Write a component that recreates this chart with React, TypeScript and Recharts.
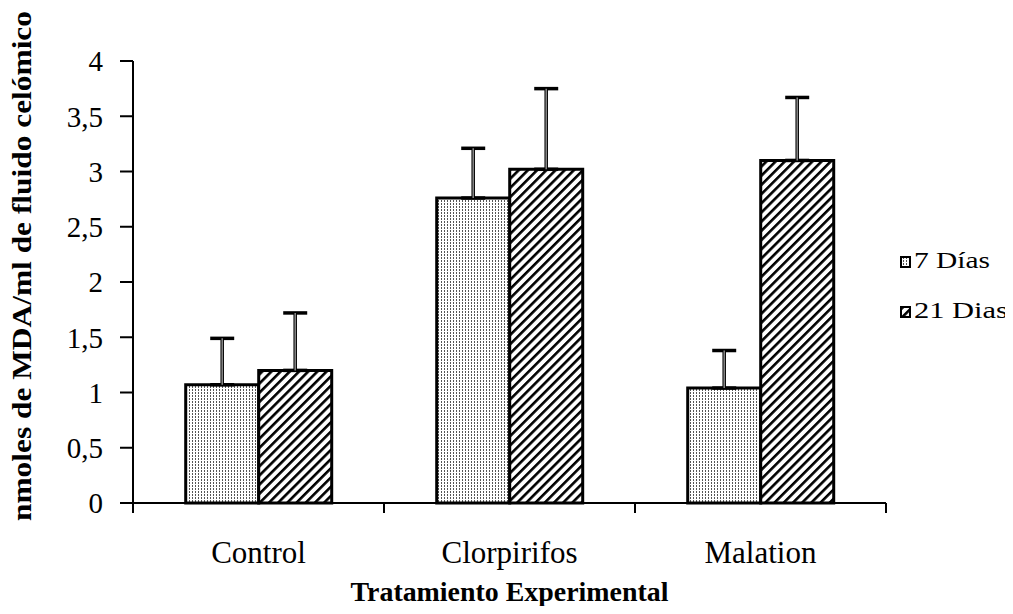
import { Bar, BarChart, ErrorBar, Legend, XAxis, YAxis } from "recharts";

// Tratamientos (categorías del eje X)
const categories = ["Control", "Clorpirifos", "Malation"];
// Medias (nmoles de MDA/ml)
const dias7 = [1.07, 2.76, 1.04];
const dias21 = [1.2, 3.02, 3.1];
// Barras de error (solo hacia arriba)
const err7 = [0.42, 0.45, 0.34];
const err21 = [0.52, 0.73, 0.57];
const yTicks = [0, 0.5, 1, 1.5, 2, 2.5, 3, 3.5, 4];
const seriesNames = ["7 Días", "21 Dias"];

const data = categories.map((name, i) => ({
  name,
  d7: dias7[i],
  d21: dias21[i],
  e7: [0, err7[i]],
  e21: [0, err21[i]],
}));

const W = 997;
const H = 598;
const X_HEIGHT = 30;
const MARGIN = { top: 53, right: 119, bottom: 103 - X_HEIGHT, left: 55 };
const Y_WIDTH = 70;
const PLOT_W = W - MARGIN.left - Y_WIDTH - MARGIN.right;
const BAND = PLOT_W / categories.length;
const FONT = "'Liberation Serif', 'Times New Roman', serif";

// etiqueta de categoría + marcas en los límites de cada banda
function CategoryTick(props: any) {
  const { x, y, payload, index } = props;
  const left = x - BAND / 2;
  const right = x + BAND / 2;
  return (
    <g>
      <line x1={left} x2={left} y1={y - 8} y2={y + 2} stroke="#000" strokeWidth={2} />
      {index === categories.length - 1 && (
        <line x1={right} x2={right} y1={y - 8} y2={y + 2} stroke="#000" strokeWidth={2} />
      )}
      <text
        x={x}
        y={y + 52}
        textAnchor="middle"
        style={{ fontFamily: FONT }}
        fontSize={31}
        fill="#000"
      >
        {payload.value}
      </text>
    </g>
  );
}

// leyenda dibujada en svg para poder ajustar el ancho del texto
function LegendBox() {
  const fills = ["url(#dots)", "url(#hatch)"];
  const widths = [76, 94];
  return (
    <svg width={110} height={84} style={{ display: "block" }}>
      {seriesNames.map((s, i) => {
        const base = 23 + i * 50;
        return (
          <g key={s}>
            <rect x={2} y={base - 11} width={9} height={10} fill={fills[i]} stroke="#000" strokeWidth={2} />
            <text
              x={15}
              y={base}
              style={{ fontFamily: FONT }}
              fontSize={23}
              textLength={widths[i]}
              lengthAdjust="spacingAndGlyphs"
              fill="#000"
            >
              {s}
            </text>
          </g>
        );
      })}
    </svg>
  );
}

export default function App() {
  return (
    <BarChart width={W} height={H} data={data} margin={MARGIN} barCategoryGap="21%" barGap={0}>
      <defs>
        <pattern id="dots" width={3} height={3} patternUnits="userSpaceOnUse">
          <rect width={3} height={3} fill="#fff" />
          <rect x={1} y={0} width={1} height={2} fill="#555" />
        </pattern>
        <pattern
          id="hatch"
          width={6.5}
          height={6.5}
          patternUnits="userSpaceOnUse"
          patternTransform="rotate(45)"
        >
          <rect width={6.5} height={6.5} fill="#fff" />
          <rect x={0} y={0} width={2.6} height={6.5} fill="#000" />
        </pattern>
      </defs>
      <XAxis
        dataKey="name"
        height={X_HEIGHT}
        axisLine={{ stroke: "#000", strokeWidth: 2 }}
        tickLine={false}
        tick={<CategoryTick />}
        interval={0}
        label={{
          content: () => (
            <text
              x={MARGIN.left + Y_WIDTH + PLOT_W / 2}
              y={H - 5}
              textAnchor="middle"
              style={{ fontFamily: FONT }}
              fontWeight="bold"
              fontSize={27}
              textLength={318}
              lengthAdjust="spacingAndGlyphs"
              fill="#000"
            >
              Tratamiento Experimental
            </text>
          ),
        }}
      />
      <YAxis
        width={Y_WIDTH}
        domain={[0, 4]}
        ticks={yTicks}
        interval={0}
        tickFormatter={(v: number) => String(v).replace(".", ",")}
        axisLine={{ stroke: "#000", strokeWidth: 2 }}
        tickLine={{ stroke: "#000", strokeWidth: 2 }}
        tickSize={13}
        tickMargin={17}
        tick={{ fontSize: 29, fill: "#000", style: { fontFamily: FONT } }}
        label={{
          content: () => (
            <text
              x={14}
              y={258}
              transform="rotate(-90 14 258)"
              textAnchor="middle"
              dominantBaseline="central"
              style={{ fontFamily: FONT }}
              fontWeight="bold"
              fontSize={27}
              textLength={510}
              lengthAdjust="spacingAndGlyphs"
              fill="#000"
            >
              nmoles de MDA/ml de fluido celómico
            </text>
          ),
        }}
      />
      <Legend
        layout="vertical"
        align="center"
        verticalAlign="middle"
        content={<LegendBox />}
        wrapperStyle={{ left: 891, top: 237, width: 110 }}
      />
      <Bar dataKey="d7" name={seriesNames[0]} fill="url(#dots)" stroke="#000" strokeWidth={3} isAnimationActive={false}>
        <ErrorBar dataKey="e7" direction="y" width={12} stroke="#000" strokeWidth={3.5} isAnimationActive={false} />
        <ErrorBar dataKey="e7" direction="y" width={0} stroke="#888" strokeWidth={1.5} isAnimationActive={false} />
      </Bar>
      <Bar dataKey="d21" name={seriesNames[1]} fill="url(#hatch)" stroke="#000" strokeWidth={3} isAnimationActive={false}>
        <ErrorBar dataKey="e21" direction="y" width={12} stroke="#000" strokeWidth={3.5} isAnimationActive={false} />
        <ErrorBar dataKey="e21" direction="y" width={0} stroke="#888" strokeWidth={1.5} isAnimationActive={false} />
      </Bar>
    </BarChart>
  );
}
